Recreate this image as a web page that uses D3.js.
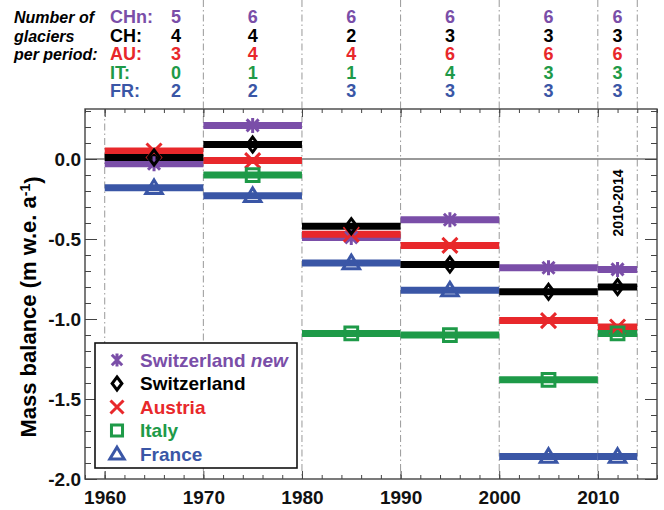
<!DOCTYPE html>
<html>
<head>
<meta charset="utf-8">
<script src="https://cdn.jsdelivr.net/npm/d3@7"></script>
<style>
  body { margin: 0; background: #fff; }
  text { font-family: 'Liberation Sans', Arial, sans-serif; font-weight: bold; }
</style>
</head>
<body>
<svg id="chart" width="664" height="510"></svg>
<script>
// periods (start, end year) and mean mass balance per period, m w.e. a-1
var periods = [[1960, 1970], [1970, 1980], [1980, 1990], [1990, 2000], [2000, 2010], [2010, 2014]]
var seriesNames = ['Switzerland new', 'Switzerland', 'Austria', 'Italy', 'France']
var seriesCodes = ['CHn', 'CH', 'AU', 'IT', 'FR']

var chnValues = [-0.03, 0.21, -0.49, -0.38, -0.68, -0.69]
var chValues = [0.01, 0.09, -0.42, -0.66, -0.83, -0.80]
var auValues = [0.05, -0.01, -0.47, -0.54, -1.01, -1.05]
var itValues = [null, -0.10, -1.09, -1.10, -1.38, -1.09]
var frValues = [-0.18, -0.23, -0.65, -0.82, -1.86, -1.86]

// number of glaciers per period
var chnCounts = [5, 6, 6, 6, 6, 6]
var chCounts = [4, 4, 2, 3, 3, 3]
var auCounts = [3, 4, 4, 6, 6, 6]
var itCounts = [0, 1, 1, 4, 3, 3]
var frCounts = [2, 2, 3, 3, 3, 3]

var xTicks = [1960, 1970, 1980, 1990, 2000, 2010]
var yTicks = [0.0, -0.5, -1.0, -1.5, -2.0]

var colors = ['#7a4ea8', '#000000', '#e8282b', '#1e9a48', '#3a56a6']
var seriesValues = [chnValues, chValues, auValues, itValues, frValues]
var seriesCounts = [chnCounts, chCounts, auCounts, itCounts, frCounts]
var drawOrder = [0, 2, 3, 4, 1] // black ends up on top

var svg = d3.select('#chart')
  , pLeft = 85, pRight = 657, pTop = 109, pBottom = 479

var x = d3.scaleLinear().domain([1958, 2016]).range([pLeft, pRight])
var y = d3.scaleLinear().domain([0.3125, -2.0]).range([pTop, pBottom])

var mid = function(p) { return (p[0] + p[1]) / 2 }

// marker shapes, s = half size
var markers = [
  function(p, s) { // asterisk
    p.moveTo(0, -s); p.lineTo(0, s)
    p.moveTo(-s * 0.8, -s * 0.8); p.lineTo(s * 0.8, s * 0.8)
    p.moveTo(-s * 0.8, s * 0.8); p.lineTo(s * 0.8, -s * 0.8)
  },
  function(p, s) { // diamond
    p.moveTo(0, -s); p.lineTo(s * 0.75, 0); p.lineTo(0, s); p.lineTo(-s * 0.75, 0); p.closePath()
  },
  function(p, s) { // x
    p.moveTo(-s, -s); p.lineTo(s, s)
    p.moveTo(-s, s); p.lineTo(s, -s)
  },
  function(p, s) { // square
    p.rect(-s * 0.85, -s * 0.85, s * 1.7, s * 1.7)
  },
  function(p, s) { // triangle
    p.moveTo(0, -s * 1.05); p.lineTo(s * 1.1, s * 0.75); p.lineTo(-s * 1.1, s * 0.75); p.closePath()
  }
]
var markerPath = function(k, s) {
  var p = d3.path()
  markers[k](p, s)
  return p.toString()
}

// dash-dot period separators (they run up through the header)
var sepYears = [1970, 1980, 1990, 2000, 2010, 2014]
svg.append('g').selectAll('line').data(sepYears)
  .enter().append('line')
  .attr('x1', function(d) { return x(d) }).attr('x2', function(d) { return x(d) })
  .attr('y1', 0).attr('y2', pBottom)
  .attr('stroke', '#999').attr('stroke-width', 1)
  .attr('stroke-dasharray', '7,3,1.5,3')
svg.append('line')
  .attr('x1', x(1960)).attr('x2', x(1960)).attr('y1', pTop).attr('y2', pBottom)
  .attr('stroke', '#999').attr('stroke-width', 1)
  .attr('stroke-dasharray', '7,3,1.5,3')

// zero line
svg.append('line')
  .attr('x1', pLeft).attr('x2', pRight).attr('y1', y(0)).attr('y2', y(0))
  .attr('stroke', '#777').attr('stroke-width', 1.6)

// axes with inward ticks
var axisStyle = function(g) {
  g.select('.domain').remove()
  g.selectAll('.tick line').attr('stroke', '#444').attr('stroke-width', 1)
  g.selectAll('.tick text').attr('fill', '#111').style('font-size', '19px').style('font-family', "'Liberation Sans', Arial, sans-serif").style('font-weight', 'bold')
}
var minorX = d3.range(1958, 2017, 2)
var minorY = d3.range(-20, 4).map(function(d) { return d / 10 })

svg.append('g').attr('transform', 'translate(0,' + pBottom + ')')
  .call(d3.axisBottom(x).tickValues(minorX).tickSize(-4).tickFormat(''))
  .call(axisStyle)
svg.append('g').attr('transform', 'translate(0,' + pBottom + ')')
  .call(d3.axisBottom(x).tickValues(xTicks).tickSize(-8).tickPadding(12).tickFormat(d3.format('d')))
  .call(axisStyle)
svg.append('g').attr('transform', 'translate(0,' + pTop + ')')
  .call(d3.axisTop(x).tickValues(minorX).tickSize(-4).tickFormat(''))
  .call(axisStyle)
svg.append('g').attr('transform', 'translate(0,' + pTop + ')')
  .call(d3.axisTop(x).tickValues(xTicks).tickSize(-8).tickFormat(''))
  .call(axisStyle)
svg.append('g').attr('transform', 'translate(' + pLeft + ',0)')
  .call(d3.axisLeft(y).tickValues(minorY).tickSize(-6).tickFormat(''))
  .call(axisStyle)
svg.append('g').attr('transform', 'translate(' + pLeft + ',0)')
  .call(d3.axisLeft(y).tickValues(yTicks).tickSize(-12).tickPadding(4).tickFormat(function(d) { return d.toFixed(1) }))
  .call(axisStyle)
  .selectAll('.tick text').attr('dy', '0.36em')
svg.append('g').attr('transform', 'translate(' + pRight + ',0)')
  .call(d3.axisRight(y).tickValues(minorY).tickSize(-6).tickFormat(''))
  .call(axisStyle)
svg.append('g').attr('transform', 'translate(' + pRight + ',0)')
  .call(d3.axisRight(y).tickValues(yTicks).tickSize(-12).tickFormat(''))
  .call(axisStyle)

svg.append('rect')
  .attr('x', pLeft).attr('y', pTop).attr('width', pRight - pLeft).attr('height', pBottom - pTop)
  .attr('fill', 'none').attr('stroke', '#444').attr('stroke-width', 1.4)

// period bars
drawOrder.forEach(function(k) {
  var rows = periods.map(function(p, i) { return { p: p, v: seriesValues[k][i] } })
    .filter(function(d) { return d.v !== null })
  svg.append('g').selectAll('line').data(rows)
    .enter().append('line')
    .attr('x1', function(d) { return x(d.p[0]) }).attr('x2', function(d) { return x(d.p[1]) })
    .attr('y1', function(d) { return y(d.v) }).attr('y2', function(d) { return y(d.v) })
    .attr('stroke', colors[k]).attr('stroke-width', 7)
})
drawOrder.forEach(function(k) {
  var rows = periods.map(function(p, i) { return { p: p, v: seriesValues[k][i] } })
    .filter(function(d) { return d.v !== null })
  svg.append('g').selectAll('path').data(rows)
    .enter().append('path')
    .attr('transform', function(d) { return 'translate(' + x(mid(d.p)) + ',' + y(d.v) + ')' })
    .attr('d', markerPath(k, 7.5))
    .attr('fill', 'none').attr('stroke', colors[k]).attr('stroke-width', 3)
})

// 2010-2014 label
svg.append('text')
  .attr('transform', 'translate(' + (x(2012) + 5) + ',' + y(-0.275) + ') rotate(-90)')
  .attr('text-anchor', 'middle')
  .style('font-size', '14px')
  .text('2010-2014')

// y axis title
var ytitle = svg.append('text')
  .attr('transform', 'translate(36,307) rotate(-90)')
  .attr('text-anchor', 'middle')
  .style('font-size', '22px')
ytitle.append('tspan').text('Mass balance (m w.e. a')
ytitle.append('tspan').attr('dy', '-0.45em').style('font-size', '14px').text('-1')
ytitle.append('tspan').attr('dy', '0.45em').text(')')

// header: number of glaciers per period
var rowY = function(i) { return 23 + i * 18.6 }
var header = svg.append('g')
header.selectAll('text.intro').data(['Number of', 'glaciers', 'per period:'])
  .enter().append('text').attr('class', 'intro')
  .attr('x', 14).attr('y', function(d, i) { return rowY(i) })
  .style('font-size', '16px').style('font-style', 'italic')
  .text(function(d) { return d })
header.selectAll('text.code').data(seriesCodes)
  .enter().append('text').attr('class', 'code')
  .attr('x', 110).attr('y', function(d, i) { return rowY(i) })
  .attr('fill', function(d, i) { return colors[i] })
  .style('font-size', '18px')
  .text(function(d) { return d + ':' })
seriesCounts.forEach(function(counts, k) {
  header.append('g').selectAll('text').data(counts)
    .enter().append('text')
    .attr('x', function(d, i) { return i === 0 ? 176 : x(mid(periods[i])) })
    .attr('y', rowY(k))
    .attr('text-anchor', 'middle')
    .attr('fill', colors[k])
    .style('font-size', '18px')
    .text(function(d) { return d })
})

// legend
var lg = svg.append('g').attr('transform', 'translate(95,343)')
lg.append('rect').attr('width', 202).attr('height', 125)
  .attr('fill', '#fff').attr('stroke', '#111').attr('stroke-width', 1.6)
var items = lg.selectAll('g.item').data(seriesNames)
  .enter().append('g').attr('class', 'item')
  .attr('transform', function(d, i) { return 'translate(0,' + (17 + i * 23.5) + ')' })
items.append('path')
  .attr('transform', 'translate(22,0)')
  .attr('d', function(d, i) { return markerPath(i, 6.5) })
  .attr('fill', 'none').attr('stroke', function(d, i) { return colors[i] }).attr('stroke-width', 3)
var labels = items.append('text')
  .attr('x', 45).attr('dy', '0.36em')
  .attr('fill', function(d, i) { return colors[i] })
  .style('font-size', '19px')
labels.each(function(d) {
  var t = d3.select(this)
  if (d === 'Switzerland new') {
    t.append('tspan').text('Switzerland ')
    t.append('tspan').style('font-style', 'italic').text('new')
  } else t.text(d)
})
</script>
</body>
</html>
